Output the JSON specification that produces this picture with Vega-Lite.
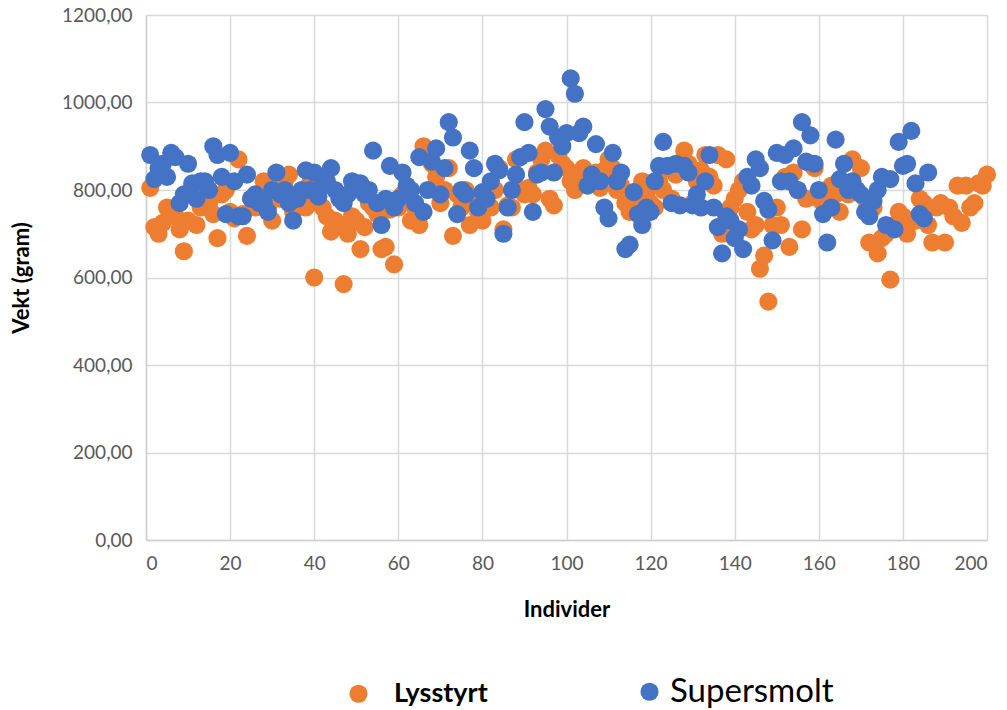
{
  "$schema": "https://vega.github.io/schema/vega-lite/v6.json",
  "width": 841,
  "height": 525,
  "autosize": "none",
  "padding": {"left": 146, "top": 15, "right": 20, "bottom": 170},
  "background": "white",
  "config": {
    "view": {"stroke": null},
    "font": "Lato",
    "axis": {
      "gridColor": "#d9d9d9",
      "gridWidth": 1.5,
      "domainColor": "#d0d0d0",
      "domainWidth": 1.5,
      "ticks": false,
      "labelColor": "#595959",
      "labelFont": "Lato",
      "labelFontSize": 19,
      "titleFont": "Lato",
      "titleFontSize": 22,
      "titleFontWeight": "bold",
      "titleColor": "#000000"
    }
  },
  "data": {
    "values": [
      {"i":1,"g":"Lysstyrt","v":805},{"i":2,"g":"Lysstyrt","v":715},{"i":3,"g":"Lysstyrt","v":700},{"i":4,"g":"Lysstyrt","v":725},{"i":5,"g":"Lysstyrt","v":760},
      {"i":6,"g":"Lysstyrt","v":745},{"i":7,"g":"Lysstyrt","v":740},{"i":8,"g":"Lysstyrt","v":710},{"i":9,"g":"Lysstyrt","v":660},{"i":10,"g":"Lysstyrt","v":730},
      {"i":11,"g":"Lysstyrt","v":790},{"i":12,"g":"Lysstyrt","v":720},{"i":13,"g":"Lysstyrt","v":760},{"i":14,"g":"Lysstyrt","v":800},{"i":15,"g":"Lysstyrt","v":770},
      {"i":16,"g":"Lysstyrt","v":745},{"i":17,"g":"Lysstyrt","v":690},{"i":18,"g":"Lysstyrt","v":790},{"i":19,"g":"Lysstyrt","v":800},{"i":20,"g":"Lysstyrt","v":750},
      {"i":21,"g":"Lysstyrt","v":735},{"i":22,"g":"Lysstyrt","v":870},{"i":23,"g":"Lysstyrt","v":745},{"i":24,"g":"Lysstyrt","v":695},{"i":25,"g":"Lysstyrt","v":780},
      {"i":26,"g":"Lysstyrt","v":760},{"i":27,"g":"Lysstyrt","v":790},{"i":28,"g":"Lysstyrt","v":820},{"i":29,"g":"Lysstyrt","v":760},{"i":30,"g":"Lysstyrt","v":730},
      {"i":31,"g":"Lysstyrt","v":800},{"i":32,"g":"Lysstyrt","v":780},{"i":33,"g":"Lysstyrt","v":820},{"i":34,"g":"Lysstyrt","v":835},{"i":35,"g":"Lysstyrt","v":750},
      {"i":36,"g":"Lysstyrt","v":790},{"i":37,"g":"Lysstyrt","v":780},{"i":38,"g":"Lysstyrt","v":760},{"i":39,"g":"Lysstyrt","v":815},{"i":40,"g":"Lysstyrt","v":600},
      {"i":41,"g":"Lysstyrt","v":770},{"i":42,"g":"Lysstyrt","v":760},{"i":43,"g":"Lysstyrt","v":740},{"i":44,"g":"Lysstyrt","v":705},{"i":45,"g":"Lysstyrt","v":730},
      {"i":46,"g":"Lysstyrt","v":720},{"i":47,"g":"Lysstyrt","v":585},{"i":48,"g":"Lysstyrt","v":700},{"i":49,"g":"Lysstyrt","v":740},{"i":50,"g":"Lysstyrt","v":730},
      {"i":51,"g":"Lysstyrt","v":665},{"i":52,"g":"Lysstyrt","v":715},{"i":53,"g":"Lysstyrt","v":770},{"i":54,"g":"Lysstyrt","v":760},{"i":55,"g":"Lysstyrt","v":745},
      {"i":56,"g":"Lysstyrt","v":665},{"i":57,"g":"Lysstyrt","v":670},{"i":58,"g":"Lysstyrt","v":755},{"i":59,"g":"Lysstyrt","v":630},{"i":60,"g":"Lysstyrt","v":760},
      {"i":61,"g":"Lysstyrt","v":790},{"i":62,"g":"Lysstyrt","v":805},{"i":63,"g":"Lysstyrt","v":730},{"i":64,"g":"Lysstyrt","v":760},{"i":65,"g":"Lysstyrt","v":720},
      {"i":66,"g":"Lysstyrt","v":900},{"i":67,"g":"Lysstyrt","v":880},{"i":68,"g":"Lysstyrt","v":860},{"i":69,"g":"Lysstyrt","v":830},{"i":70,"g":"Lysstyrt","v":770},
      {"i":71,"g":"Lysstyrt","v":800},{"i":72,"g":"Lysstyrt","v":850},{"i":73,"g":"Lysstyrt","v":695},{"i":74,"g":"Lysstyrt","v":790},{"i":75,"g":"Lysstyrt","v":760},
      {"i":76,"g":"Lysstyrt","v":800},{"i":77,"g":"Lysstyrt","v":720},{"i":78,"g":"Lysstyrt","v":775},{"i":79,"g":"Lysstyrt","v":750},{"i":80,"g":"Lysstyrt","v":730},
      {"i":81,"g":"Lysstyrt","v":770},{"i":82,"g":"Lysstyrt","v":760},{"i":83,"g":"Lysstyrt","v":800},{"i":84,"g":"Lysstyrt","v":850},{"i":85,"g":"Lysstyrt","v":710},
      {"i":86,"g":"Lysstyrt","v":765},{"i":87,"g":"Lysstyrt","v":760},{"i":88,"g":"Lysstyrt","v":870},{"i":89,"g":"Lysstyrt","v":800},{"i":90,"g":"Lysstyrt","v":790},
      {"i":91,"g":"Lysstyrt","v":805},{"i":92,"g":"Lysstyrt","v":790},{"i":93,"g":"Lysstyrt","v":840},{"i":94,"g":"Lysstyrt","v":870},{"i":95,"g":"Lysstyrt","v":890},
      {"i":96,"g":"Lysstyrt","v":780},{"i":97,"g":"Lysstyrt","v":765},{"i":98,"g":"Lysstyrt","v":880},{"i":99,"g":"Lysstyrt","v":860},{"i":100,"g":"Lysstyrt","v":850},
      {"i":101,"g":"Lysstyrt","v":820},{"i":102,"g":"Lysstyrt","v":800},{"i":103,"g":"Lysstyrt","v":830},{"i":104,"g":"Lysstyrt","v":850},{"i":105,"g":"Lysstyrt","v":830},
      {"i":106,"g":"Lysstyrt","v":820},{"i":107,"g":"Lysstyrt","v":840},{"i":108,"g":"Lysstyrt","v":805},{"i":109,"g":"Lysstyrt","v":845},{"i":110,"g":"Lysstyrt","v":870},
      {"i":111,"g":"Lysstyrt","v":850},{"i":112,"g":"Lysstyrt","v":800},{"i":113,"g":"Lysstyrt","v":810},{"i":114,"g":"Lysstyrt","v":770},{"i":115,"g":"Lysstyrt","v":750},
      {"i":116,"g":"Lysstyrt","v":780},{"i":117,"g":"Lysstyrt","v":800},{"i":118,"g":"Lysstyrt","v":820},{"i":119,"g":"Lysstyrt","v":790},{"i":120,"g":"Lysstyrt","v":770},
      {"i":121,"g":"Lysstyrt","v":760},{"i":122,"g":"Lysstyrt","v":820},{"i":123,"g":"Lysstyrt","v":800},{"i":124,"g":"Lysstyrt","v":850},{"i":125,"g":"Lysstyrt","v":780},
      {"i":126,"g":"Lysstyrt","v":835},{"i":127,"g":"Lysstyrt","v":860},{"i":128,"g":"Lysstyrt","v":890},{"i":129,"g":"Lysstyrt","v":860},{"i":130,"g":"Lysstyrt","v":770},
      {"i":131,"g":"Lysstyrt","v":820},{"i":132,"g":"Lysstyrt","v":845},{"i":133,"g":"Lysstyrt","v":880},{"i":134,"g":"Lysstyrt","v":830},{"i":135,"g":"Lysstyrt","v":810},
      {"i":136,"g":"Lysstyrt","v":880},{"i":137,"g":"Lysstyrt","v":700},{"i":138,"g":"Lysstyrt","v":870},{"i":139,"g":"Lysstyrt","v":760},{"i":140,"g":"Lysstyrt","v":780},
      {"i":141,"g":"Lysstyrt","v":800},{"i":142,"g":"Lysstyrt","v":820},{"i":143,"g":"Lysstyrt","v":750},{"i":144,"g":"Lysstyrt","v":710},{"i":145,"g":"Lysstyrt","v":720},
      {"i":146,"g":"Lysstyrt","v":620},{"i":147,"g":"Lysstyrt","v":650},{"i":148,"g":"Lysstyrt","v":545},{"i":149,"g":"Lysstyrt","v":720},{"i":150,"g":"Lysstyrt","v":760},
      {"i":151,"g":"Lysstyrt","v":720},{"i":152,"g":"Lysstyrt","v":830},{"i":153,"g":"Lysstyrt","v":670},{"i":154,"g":"Lysstyrt","v":840},{"i":155,"g":"Lysstyrt","v":800},
      {"i":156,"g":"Lysstyrt","v":710},{"i":157,"g":"Lysstyrt","v":780},{"i":158,"g":"Lysstyrt","v":860},{"i":159,"g":"Lysstyrt","v":850},{"i":160,"g":"Lysstyrt","v":780},
      {"i":161,"g":"Lysstyrt","v":770},{"i":162,"g":"Lysstyrt","v":760},{"i":163,"g":"Lysstyrt","v":810},{"i":164,"g":"Lysstyrt","v":790},{"i":165,"g":"Lysstyrt","v":750},
      {"i":166,"g":"Lysstyrt","v":800},{"i":167,"g":"Lysstyrt","v":790},{"i":168,"g":"Lysstyrt","v":870},{"i":169,"g":"Lysstyrt","v":800},{"i":170,"g":"Lysstyrt","v":850},
      {"i":171,"g":"Lysstyrt","v":780},{"i":172,"g":"Lysstyrt","v":680},{"i":173,"g":"Lysstyrt","v":760},{"i":174,"g":"Lysstyrt","v":655},{"i":175,"g":"Lysstyrt","v":690},
      {"i":176,"g":"Lysstyrt","v":700},{"i":177,"g":"Lysstyrt","v":595},{"i":178,"g":"Lysstyrt","v":720},{"i":179,"g":"Lysstyrt","v":750},{"i":180,"g":"Lysstyrt","v":740},
      {"i":181,"g":"Lysstyrt","v":700},{"i":182,"g":"Lysstyrt","v":730},{"i":183,"g":"Lysstyrt","v":730},{"i":184,"g":"Lysstyrt","v":780},{"i":185,"g":"Lysstyrt","v":770},
      {"i":186,"g":"Lysstyrt","v":720},{"i":187,"g":"Lysstyrt","v":680},{"i":188,"g":"Lysstyrt","v":760},{"i":189,"g":"Lysstyrt","v":770},{"i":190,"g":"Lysstyrt","v":680},
      {"i":191,"g":"Lysstyrt","v":760},{"i":192,"g":"Lysstyrt","v":740},{"i":193,"g":"Lysstyrt","v":810},{"i":194,"g":"Lysstyrt","v":725},{"i":195,"g":"Lysstyrt","v":810},
      {"i":196,"g":"Lysstyrt","v":760},{"i":197,"g":"Lysstyrt","v":770},{"i":198,"g":"Lysstyrt","v":815},{"i":199,"g":"Lysstyrt","v":810},{"i":200,"g":"Lysstyrt","v":835},
      {"i":1,"g":"Supersmolt","v":880},{"i":2,"g":"Supersmolt","v":825},{"i":3,"g":"Supersmolt","v":850},{"i":4,"g":"Supersmolt","v":860},{"i":5,"g":"Supersmolt","v":830},
      {"i":6,"g":"Supersmolt","v":885},{"i":7,"g":"Supersmolt","v":875},{"i":8,"g":"Supersmolt","v":770},{"i":9,"g":"Supersmolt","v":790},{"i":10,"g":"Supersmolt","v":860},
      {"i":11,"g":"Supersmolt","v":815},{"i":12,"g":"Supersmolt","v":780},{"i":13,"g":"Supersmolt","v":820},{"i":14,"g":"Supersmolt","v":820},{"i":15,"g":"Supersmolt","v":800},
      {"i":16,"g":"Supersmolt","v":900},{"i":17,"g":"Supersmolt","v":880},{"i":18,"g":"Supersmolt","v":830},{"i":19,"g":"Supersmolt","v":745},{"i":20,"g":"Supersmolt","v":885},
      {"i":21,"g":"Supersmolt","v":820},{"i":22,"g":"Supersmolt","v":740},{"i":23,"g":"Supersmolt","v":740},{"i":24,"g":"Supersmolt","v":835},{"i":25,"g":"Supersmolt","v":780},
      {"i":26,"g":"Supersmolt","v":790},{"i":27,"g":"Supersmolt","v":770},{"i":28,"g":"Supersmolt","v":770},{"i":29,"g":"Supersmolt","v":750},{"i":30,"g":"Supersmolt","v":800},
      {"i":31,"g":"Supersmolt","v":840},{"i":32,"g":"Supersmolt","v":790},{"i":33,"g":"Supersmolt","v":800},{"i":34,"g":"Supersmolt","v":770},{"i":35,"g":"Supersmolt","v":730},
      {"i":36,"g":"Supersmolt","v":780},{"i":37,"g":"Supersmolt","v":800},{"i":38,"g":"Supersmolt","v":845},{"i":39,"g":"Supersmolt","v":800},{"i":40,"g":"Supersmolt","v":840},
      {"i":41,"g":"Supersmolt","v":785},{"i":42,"g":"Supersmolt","v":810},{"i":43,"g":"Supersmolt","v":820},{"i":44,"g":"Supersmolt","v":850},{"i":45,"g":"Supersmolt","v":800},
      {"i":46,"g":"Supersmolt","v":780},{"i":47,"g":"Supersmolt","v":770},{"i":48,"g":"Supersmolt","v":790},{"i":49,"g":"Supersmolt","v":820},{"i":50,"g":"Supersmolt","v":815},
      {"i":51,"g":"Supersmolt","v":815},{"i":52,"g":"Supersmolt","v":790},{"i":53,"g":"Supersmolt","v":800},{"i":54,"g":"Supersmolt","v":890},{"i":55,"g":"Supersmolt","v":770},
      {"i":56,"g":"Supersmolt","v":720},{"i":57,"g":"Supersmolt","v":780},{"i":58,"g":"Supersmolt","v":855},{"i":59,"g":"Supersmolt","v":760},{"i":60,"g":"Supersmolt","v":780},
      {"i":61,"g":"Supersmolt","v":840},{"i":62,"g":"Supersmolt","v":810},{"i":63,"g":"Supersmolt","v":800},{"i":64,"g":"Supersmolt","v":770},{"i":65,"g":"Supersmolt","v":875},
      {"i":66,"g":"Supersmolt","v":750},{"i":67,"g":"Supersmolt","v":800},{"i":68,"g":"Supersmolt","v":865},{"i":69,"g":"Supersmolt","v":895},{"i":70,"g":"Supersmolt","v":790},
      {"i":71,"g":"Supersmolt","v":850},{"i":72,"g":"Supersmolt","v":955},{"i":73,"g":"Supersmolt","v":920},{"i":74,"g":"Supersmolt","v":745},{"i":75,"g":"Supersmolt","v":800},
      {"i":76,"g":"Supersmolt","v":790},{"i":77,"g":"Supersmolt","v":890},{"i":78,"g":"Supersmolt","v":850},{"i":79,"g":"Supersmolt","v":760},{"i":80,"g":"Supersmolt","v":795},
      {"i":81,"g":"Supersmolt","v":780},{"i":82,"g":"Supersmolt","v":820},{"i":83,"g":"Supersmolt","v":860},{"i":84,"g":"Supersmolt","v":845},{"i":85,"g":"Supersmolt","v":700},
      {"i":86,"g":"Supersmolt","v":760},{"i":87,"g":"Supersmolt","v":800},{"i":88,"g":"Supersmolt","v":835},{"i":89,"g":"Supersmolt","v":875},{"i":90,"g":"Supersmolt","v":955},
      {"i":91,"g":"Supersmolt","v":885},{"i":92,"g":"Supersmolt","v":750},{"i":93,"g":"Supersmolt","v":835},{"i":94,"g":"Supersmolt","v":840},{"i":95,"g":"Supersmolt","v":985},
      {"i":96,"g":"Supersmolt","v":945},{"i":97,"g":"Supersmolt","v":840},{"i":98,"g":"Supersmolt","v":920},{"i":99,"g":"Supersmolt","v":900},{"i":100,"g":"Supersmolt","v":930},
      {"i":101,"g":"Supersmolt","v":1055},{"i":102,"g":"Supersmolt","v":1020},{"i":103,"g":"Supersmolt","v":930},{"i":104,"g":"Supersmolt","v":945},{"i":105,"g":"Supersmolt","v":810},
      {"i":106,"g":"Supersmolt","v":835},{"i":107,"g":"Supersmolt","v":905},{"i":108,"g":"Supersmolt","v":820},{"i":109,"g":"Supersmolt","v":760},{"i":110,"g":"Supersmolt","v":735},
      {"i":111,"g":"Supersmolt","v":885},{"i":112,"g":"Supersmolt","v":820},{"i":113,"g":"Supersmolt","v":840},{"i":114,"g":"Supersmolt","v":665},{"i":115,"g":"Supersmolt","v":675},
      {"i":116,"g":"Supersmolt","v":795},{"i":117,"g":"Supersmolt","v":745},{"i":118,"g":"Supersmolt","v":720},{"i":119,"g":"Supersmolt","v":760},{"i":120,"g":"Supersmolt","v":750},
      {"i":121,"g":"Supersmolt","v":820},{"i":122,"g":"Supersmolt","v":855},{"i":123,"g":"Supersmolt","v":910},{"i":124,"g":"Supersmolt","v":855},{"i":125,"g":"Supersmolt","v":770},
      {"i":126,"g":"Supersmolt","v":860},{"i":127,"g":"Supersmolt","v":765},{"i":128,"g":"Supersmolt","v":855},{"i":129,"g":"Supersmolt","v":840},{"i":130,"g":"Supersmolt","v":765},
      {"i":131,"g":"Supersmolt","v":790},{"i":132,"g":"Supersmolt","v":760},{"i":133,"g":"Supersmolt","v":820},{"i":134,"g":"Supersmolt","v":880},{"i":135,"g":"Supersmolt","v":760},
      {"i":136,"g":"Supersmolt","v":715},{"i":137,"g":"Supersmolt","v":655},{"i":138,"g":"Supersmolt","v":740},{"i":139,"g":"Supersmolt","v":730},{"i":140,"g":"Supersmolt","v":690},
      {"i":141,"g":"Supersmolt","v":710},{"i":142,"g":"Supersmolt","v":665},{"i":143,"g":"Supersmolt","v":830},{"i":144,"g":"Supersmolt","v":810},{"i":145,"g":"Supersmolt","v":870},
      {"i":146,"g":"Supersmolt","v":850},{"i":147,"g":"Supersmolt","v":775},{"i":148,"g":"Supersmolt","v":755},{"i":149,"g":"Supersmolt","v":685},{"i":150,"g":"Supersmolt","v":885},
      {"i":151,"g":"Supersmolt","v":820},{"i":152,"g":"Supersmolt","v":880},{"i":153,"g":"Supersmolt","v":820},{"i":154,"g":"Supersmolt","v":895},{"i":155,"g":"Supersmolt","v":800},
      {"i":156,"g":"Supersmolt","v":955},{"i":157,"g":"Supersmolt","v":865},{"i":158,"g":"Supersmolt","v":925},{"i":159,"g":"Supersmolt","v":860},{"i":160,"g":"Supersmolt","v":800},
      {"i":161,"g":"Supersmolt","v":745},{"i":162,"g":"Supersmolt","v":680},{"i":163,"g":"Supersmolt","v":760},{"i":164,"g":"Supersmolt","v":915},{"i":165,"g":"Supersmolt","v":825},
      {"i":166,"g":"Supersmolt","v":860},{"i":167,"g":"Supersmolt","v":800},{"i":168,"g":"Supersmolt","v":820},{"i":169,"g":"Supersmolt","v":800},{"i":170,"g":"Supersmolt","v":790},
      {"i":171,"g":"Supersmolt","v":750},{"i":172,"g":"Supersmolt","v":740},{"i":173,"g":"Supersmolt","v":775},{"i":174,"g":"Supersmolt","v":800},{"i":175,"g":"Supersmolt","v":830},
      {"i":176,"g":"Supersmolt","v":720},{"i":177,"g":"Supersmolt","v":825},{"i":178,"g":"Supersmolt","v":710},{"i":179,"g":"Supersmolt","v":910},{"i":180,"g":"Supersmolt","v":855},
      {"i":181,"g":"Supersmolt","v":860},{"i":182,"g":"Supersmolt","v":935},{"i":183,"g":"Supersmolt","v":815},{"i":184,"g":"Supersmolt","v":745},{"i":185,"g":"Supersmolt","v":735},
      {"i":186,"g":"Supersmolt","v":840}
    ]
  },
  "mark": {"type": "circle", "size": 330, "opacity": 1},
  "encoding": {
    "x": {
      "field": "i",
      "type": "quantitative",
      "scale": {"domain": [0, 200], "nice": false, "zero": true},
      "axis": {
        "values": [0, 20, 40, 60, 80, 100, 120, 140, 160, 180, 200],
        "title": "Individer",
        "labelPadding": 14,
        "titlePadding": 26
      }
    },
    "y": {
      "field": "v",
      "type": "quantitative",
      "scale": {"domain": [0, 1200], "nice": false},
      "axis": {
        "values": [0, 200, 400, 600, 800, 1000, 1200],
        "labelExpr": "replace(format(datum.value, '.2f'), '.', ',')",
        "title": "Vekt (gram)",
        "labelPadding": 14,
        "titlePadding": 28
      }
    },
    "color": {
      "field": "g",
      "type": "nominal",
      "scale": {"domain": ["Lysstyrt", "Supersmolt"], "range": ["#ED7D31", "#4472C4"]},
      "legend": {
        "title": null,
        "orient": "none",
        "direction": "horizontal",
        "legendX": 196,
        "legendY": 660,
        "symbolType": "circle",
        "symbolSize": 330,
        "symbolOpacity": 1,
        "labelOffset": 4,
        "labelLimit": 0,
        "columnPadding": 145,
        "labelFont": "Lato",
        "labelColor": "#000000",
        "encode": {
          "labels": {
            "update": {
              "fontWeight": {"signal": "datum.value === 'Lysstyrt' ? 'bold' : 'normal'"},
              "fontSize": {"signal": "datum.value === 'Lysstyrt' ? 27 : 33"},
              "dx": {"signal": "datum.value === 'Lysstyrt' ? 15 : 0"}
            }
          }
        }
      }
    }
  }
}
